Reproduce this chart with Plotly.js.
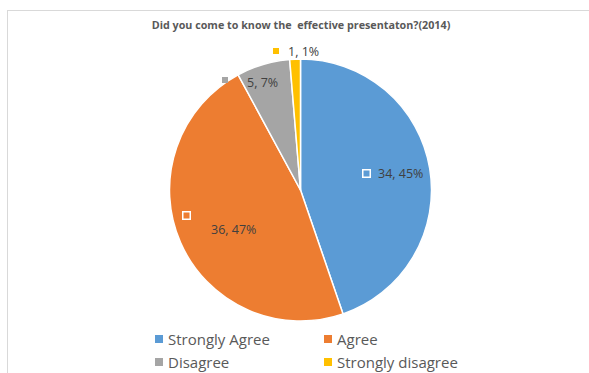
<!DOCTYPE html>
<html>
<head>
<meta charset="utf-8">
<script src="https://cdn.plot.ly/plotly-3.0.1.min.js"></script>
<style>
  html, body { margin: 0; padding: 0; background: #fff; }
  #wrap { position: relative; width: 589px; height: 373px; overflow: hidden; }
  #chart { position: absolute; left: 0; top: 0; width: 589px; height: 373px; }
  #frame { position: absolute; left: 7px; top: 10px; width: 600px; height: 400px;
           border-top: 1px solid #d9d9d9; border-left: 1px solid #d9d9d9; pointer-events: none; }
</style>
</head>
<body>
<div id="wrap">
  <div id="chart"></div>
  <div id="frame"></div>
</div>
<script>
// ---- data ----
const categories = ["Strongly Agree", "Agree", "Disagree", "Strongly disagree"];
const values = [34, 36, 5, 1];
const colors = ["#5B9BD5", "#ED7D31", "#A5A5A5", "#FFC000"];
const titleText = "Did you come to know the&nbsp; effective presentaton?(2014)";

// ---- layout geometry ----
const W = 589, H = 373;
const M = { l: 0, r: 0, t: 0, b: 0 };
const PW = W - M.l - M.r;
const px = x => (x - M.l) / PW;          // pixel -> paper x
const py = y => 1 - y / H;               // pixel -> paper y
const cx = 300.5, cy = 190, R = 131;

const total = values.reduce((a, b) => a + b, 0);
const labelText = values.map(v => v + ", " + Math.round(v / total * 100) + "%");

// data-label placement (layout only)
const labelPos = [
  { kx: 366, ky: 173, tx: 376, ty: 173, anchor: "left", hollow: true },
  { kx: 186, ky: 215, tx: 233, ty: 229, anchor: "center", hollow: true },
  { kx: 225, ky: 80, tx: 245, ty: 82, anchor: "left", hollow: false },
  { kx: 276, ky: 51, tx: 286, ty: 52, anchor: "left", hollow: false }
];
// legend placement (layout only): key centre x,y and text x
const legendPos = [
  { kx: 159, ky: 339, tx: 166 },
  { kx: 328, ky: 339, tx: 335 },
  { kx: 159, ky: 362, tx: 166 },
  { kx: 328, ky: 362, tx: 335 }
];

const annotations = [];
const keyBox = (x, y, color, hollow, size) => ({
  xref: "paper", yref: "paper", x: px(x), y: py(y),
  xanchor: "center", yanchor: "middle", showarrow: false,
  text: " ", width: size, height: size, borderpad: 0,
  bgcolor: color,
  bordercolor: hollow ? "#ffffff" : color,
  borderwidth: hollow ? 1.5 : 0,
  font: { size: 1 }
});
labelPos.forEach((p, i) => {
  annotations.push(keyBox(p.kx, p.ky, colors[i], p.hollow, 6));
  annotations.push({
    xref: "paper", yref: "paper", x: px(p.tx), y: py(p.ty),
    xanchor: p.anchor, yanchor: "middle", showarrow: false,
    text: labelText[i],
    font: { family: "Open Sans, sans-serif", size: 12.5, color: "#404040" }
  });
});
legendPos.forEach((p, i) => {
  annotations.push(keyBox(p.kx, p.ky, colors[i], false, 8));
  annotations.push({
    xref: "paper", yref: "paper", x: px(p.tx), y: py(p.ky),
    xanchor: "left", yanchor: "middle", showarrow: false,
    text: categories[i],
    font: { family: "Open Sans, sans-serif", size: 15, color: "#595959" }
  });
});

const data = [{
  type: "pie",
  labels: categories,
  values: values,
  marker: { colors: colors, line: { color: "#ffffff", width: 1.5 } },
  sort: false,
  direction: "clockwise",
  rotation: 0,
  textinfo: "none",
  hoverinfo: "label+value+percent",
  domain: { x: [px(cx - R), px(cx + R)], y: [py(cy + R), py(cy - R)] }
}];

const layout = {
  width: W, height: H,
  margin: M,
  paper_bgcolor: "#ffffff",
  plot_bgcolor: "#ffffff",
  title: {
    text: titleText,
    xref: "container", yref: "container",
    x: 301 / W, xanchor: "center",
    y: 1 - 25 / H, yanchor: "middle",
    font: { family: "Open Sans, sans-serif", size: 10.75, color: "#595959", weight: "bold" }
  },
  showlegend: false,
  annotations: annotations
};

Plotly.newPlot("chart", data, layout, { displayModeBar: false, staticPlot: true });
</script>
</body>
</html>
